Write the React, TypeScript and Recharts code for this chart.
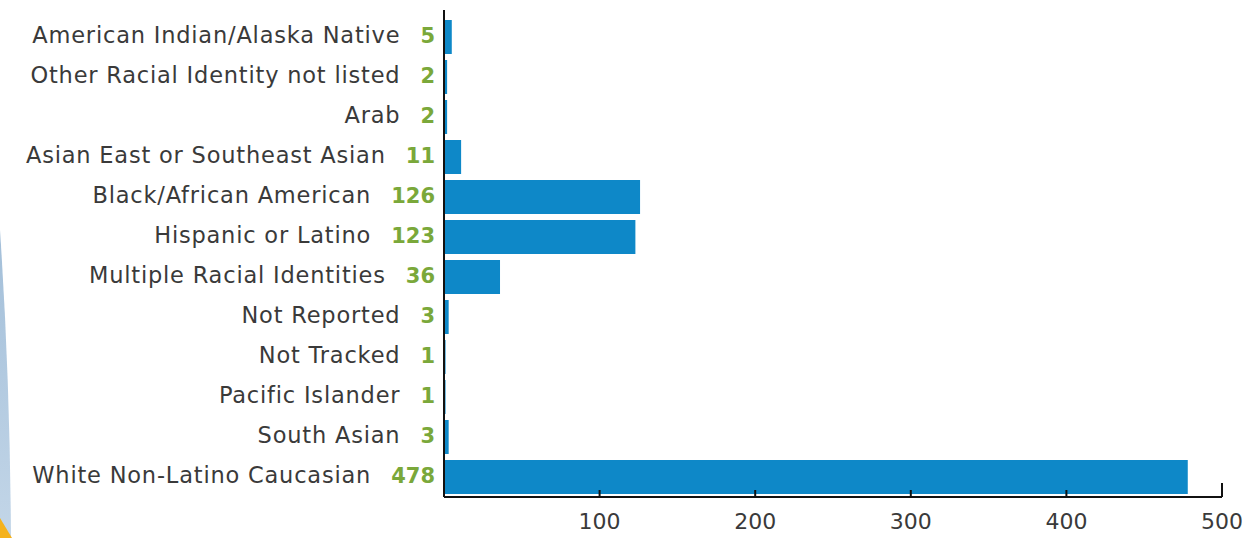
import React from 'react';
import { BarChart, Bar, XAxis, YAxis } from 'recharts';

const categories = [
  'American Indian/Alaska Native',
  'Other Racial Identity not listed',
  'Arab',
  'Asian East or Southeast Asian',
  'Black/African American',
  'Hispanic or Latino',
  'Multiple Racial Identities',
  'Not Reported',
  'Not Tracked',
  'Pacific Islander',
  'South Asian',
  'White Non-Latino Caucasian',
];
const counts = [5, 2, 2, 11, 126, 123, 36, 3, 1, 1, 3, 478];
const xTicks = [100, 200, 300, 400, 500];

const data = categories.map((name, i) => ({ name, count: counts[i] }));

const TEXT = '#3a3a3a';
const GREEN = '#7aa83a';
const BLUE = '#0e88c8';
const FONT = '"DejaVu Sans", sans-serif';

const CategoryTick = ({ x, y, payload }: any) => {
  const idx = categories.indexOf(payload.value);
  return (
    <text x={x - 9} y={y} dy="0.36em" textAnchor="end" fontFamily={FONT}>
      <tspan fill={TEXT} fontSize={22.5} letterSpacing={0.8}>{payload.value}</tspan>
      <tspan dx={20} fill={GREEN} fontWeight={700} fontSize={21}>{counts[idx]}</tspan>
    </text>
  );
};

const ValueTick = ({ x, y, payload }: any) => {
  const tall = payload.value === 500;
  return (
    <g>
      <line x1={x} x2={x} y1={y} y2={y - (tall ? 14 : 7)} stroke="#111" strokeWidth={2} />
      <text x={x} y={y + 32} textAnchor="middle" fill={TEXT} fontFamily={FONT} fontSize={22}>
        {payload.value}
      </text>
    </g>
  );
};

export default function App() {
  return (
    <div style={{ position: 'absolute', left: 0, top: 0, width: 1257, height: 538, background: '#fff', overflow: 'hidden' }}>
      {/* left edge decoration */}
      <svg width={40} height={538} style={{ position: 'absolute', left: 0, top: 0 }}>
        <defs>
          <linearGradient id="band" x1="0" y1="0" x2="0" y2="1">
            <stop offset="0%" stopColor="#a3bfd9" />
            <stop offset="100%" stopColor="#c3d6e8" />
          </linearGradient>
        </defs>
        <path d="M0,230 Q10,380 11,538 L0,538 Z" fill="url(#band)" />
        <path d="M0,518 L12,538 L0,538 Z" fill="#f5b21c" />
      </svg>
      <BarChart
        width={1257}
        height={538}
        data={data}
        layout="vertical"
        margin={{ top: 10, right: 35, bottom: 0, left: 0 }}
        barCategoryGap={3}
      >
        <XAxis
          type="number"
          domain={[0, 500]}
          ticks={xTicks}
          height={41}
          tickSize={0}
          tickMargin={0}
          tickLine={false}
          axisLine={{ stroke: '#111', strokeWidth: 2 }}
          tick={<ValueTick />}
          allowDataOverflow
        />
        <YAxis
          type="category"
          dataKey="name"
          width={444}
          padding={{ top: 7, bottom: 0 }}
          tickSize={0}
          tickMargin={0}
          tickLine={false}
          axisLine={{ stroke: '#111', strokeWidth: 2 }}
          tick={<CategoryTick />}
          interval={0}
        />
        <Bar dataKey="count" fill={BLUE} isAnimationActive={false} />
      </BarChart>
    </div>
  );
}
